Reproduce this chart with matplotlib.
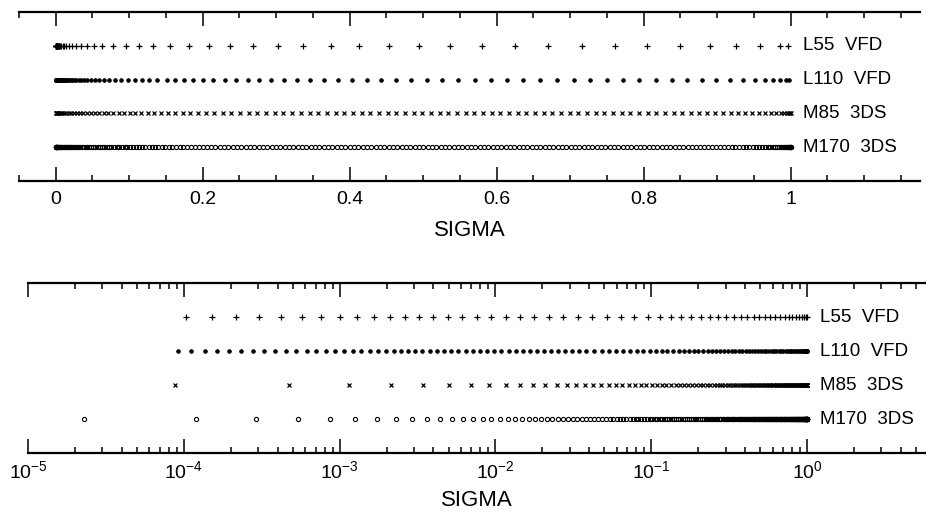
import matplotlib
matplotlib.use('Agg')
import matplotlib.pyplot as plt
from matplotlib.ticker import MultipleLocator, LogLocator, FuncFormatter, NullFormatter
import math

plt.rcParams['font.family'] = ['Liberation Sans', 'DejaVu Sans']
plt.rcParams['mathtext.fontset'] = 'custom'
plt.rcParams['mathtext.rm'] = 'Liberation Sans'
plt.rcParams['mathtext.default'] = 'regular'

# sigma levels
l55_vfd = [1.03e-4, 1.51e-4, 2.16e-4, 3.04e-4, 4.21e-4, 5.73e-4, 7.63e-4, 1.00e-3,
           1.30e-3, 1.66e-3, 2.09e-3, 2.61e-3, 3.22e-3, 3.99e-3, 4.95e-3, 6.14e-3,
           7.63e-3, 9.38e-3, 0.0116, 0.0143, 0.0177, 0.0220, 0.0272, 0.0337, 0.0419,
           0.0517, 0.0635, 0.078, 0.095, 0.113, 0.133, 0.156, 0.181, 0.209, 0.237,
           0.269, 0.302, 0.337, 0.374, 0.413, 0.453, 0.494, 0.537, 0.580, 0.625,
           0.670, 0.716, 0.761, 0.805, 0.849, 0.890, 0.926, 0.958, 0.985, 0.996]

l110_vfd = [9.2e-5, 1.12e-4, 1.36e-4, 1.63e-4, 1.96e-4, 2.34e-4, 2.78e-4, 3.29e-4,
            3.87e-4, 4.53e-4, 5.28e-4, 6.13e-4, 7.05e-4, 8.13e-4, 9.33e-4, 1.07e-3,
            1.22e-3, 1.38e-3, 1.56e-3, 1.76e-3, 1.98e-3, 2.22e-3, 2.47e-3, 2.74e-3,
            3.06e-3, 3.40e-3, 3.78e-3, 4.19e-3, 4.66e-3, 5.20e-3, 5.79e-3, 6.45e-3,
            7.20e-3, 8.00e-3, 8.87e-3,
            0.00985, 0.01093, 0.01213, 0.01347, 0.01495, 0.0166, 0.0184, 0.0204,
            0.0227, 0.0252, 0.0280, 0.0310, 0.0345, 0.0383, 0.0428, 0.0480, 0.0535,
            0.0595, 0.0660, 0.0730, 0.0805, 0.0885,
            0.098, 0.108, 0.117, 0.127, 0.138, 0.151, 0.162, 0.174, 0.187, 0.200,
            0.214, 0.230, 0.245, 0.261, 0.277, 0.293, 0.311, 0.328, 0.346, 0.365,
            0.384, 0.403, 0.423, 0.443, 0.463, 0.484, 0.505, 0.526, 0.548, 0.570,
            0.592, 0.614, 0.636, 0.659, 0.682, 0.705, 0.727, 0.750, 0.772, 0.794,
            0.817, 0.839, 0.859, 0.880, 0.899, 0.918, 0.935, 0.951, 0.965, 0.976,
            0.985, 0.994, 0.998]

m85_3ds = [8.84e-5, 4.71e-4, 1.156e-3, 2.144e-3, 3.434e-3, 5.027e-3, 6.922e-3, 9.120e-3,
           0.01162, 0.01442, 0.01753, 0.02094, 0.02465, 0.02866, 0.03298, 0.03760,
           0.04252, 0.04774, 0.05327, 0.05910, 0.06523, 0.07166, 0.07840, 0.08544,
           0.09278, 0.1004, 0.1084, 0.1166, 0.1252, 0.1340, 0.1432, 0.1526, 0.1624,
           0.1725, 0.1828, 0.1935, 0.2045, 0.2158, 0.2273,
           0.2391, 0.2509, 0.2627, 0.2745, 0.2863, 0.2981, 0.3099, 0.3217, 0.3335,
           0.3453, 0.3571, 0.3689, 0.3807, 0.3925, 0.4043, 0.4161, 0.4279, 0.4397,
           0.4515, 0.4633, 0.4751, 0.4869, 0.4987, 0.5105, 0.5223, 0.5341, 0.5459,
           0.5577, 0.5695, 0.5813, 0.5931, 0.6049, 0.6167, 0.6285, 0.6403, 0.6521,
           0.6639, 0.6757, 0.6875, 0.6993, 0.7111, 0.7229, 0.7347, 0.7465, 0.7583,
           0.7701, 0.7819, 0.7937, 0.8055, 0.8173, 0.8291, 0.8409,
           0.8525, 0.8640, 0.8753, 0.8864, 0.8973, 0.9079, 0.9183, 0.9284, 0.9382,
           0.9476, 0.9566, 0.9651, 0.9730, 0.9801, 0.9862, 0.9912, 0.9950, 0.9977,
           0.9993, 1.0]

m170_3ds = [2.28e-5, 1.192e-4, 2.914e-4, 5.392e-4, 8.626e-4, 1.2617e-3, 1.7364e-3,
            2.2868e-3, 2.9128e-3, 3.6144e-3, 4.3917e-3, 5.2446e-3, 6.1732e-3,
            7.1775e-3, 8.2574e-3, 9.4129e-3, 0.010644, 0.011951, 0.013333, 0.014791,
            0.016325, 0.017935, 0.019620, 0.021380, 0.023217, 0.025129, 0.027116,
            0.029180, 0.031318, 0.033533, 0.035823, 0.038189, 0.040630, 0.043148,
            0.045740, 0.048409, 0.051153, 0.053973, 0.056868, 0.059839, 0.062886,
            0.066008, 0.069206, 0.072479, 0.075829, 0.079254, 0.082754, 0.086330,
            0.089982, 0.093709, 0.097513, 0.101391, 0.105346, 0.109376, 0.113481,
            0.117663, 0.121920, 0.126252, 0.130660, 0.135144, 0.139704, 0.144339,
            0.149050, 0.153837, 0.158699, 0.163636, 0.168650, 0.173739, 0.178904,
            0.184144, 0.189460, 0.194852, 0.200319, 0.205862, 0.211480, 0.217175,
            0.222945, 0.228790, 0.234711,
            0.2406, 0.2465, 0.2524, 0.2583, 0.2642, 0.2701, 0.2760, 0.2819, 0.2878,
            0.2937, 0.2996, 0.3055, 0.3114, 0.3173, 0.3232, 0.3291, 0.3350, 0.3409,
            0.3468, 0.3527, 0.3586, 0.3645, 0.3704, 0.3763, 0.3822, 0.3881, 0.3940,
            0.3999, 0.4058, 0.4117, 0.4176, 0.4235, 0.4294, 0.4353, 0.4412, 0.4471,
            0.4530, 0.4589, 0.4648, 0.4707, 0.4766, 0.4825, 0.4884, 0.4943, 0.5002,
            0.5061, 0.5120, 0.5179, 0.5238, 0.5297, 0.5356, 0.5415, 0.5474, 0.5533,
            0.5592, 0.5651, 0.5710, 0.5769, 0.5828, 0.5887, 0.5946, 0.6005, 0.6064,
            0.6123, 0.6182, 0.6241, 0.6300, 0.6359, 0.6418, 0.6477, 0.6536, 0.6595,
            0.6654, 0.6713, 0.6772, 0.6831, 0.6890, 0.6949, 0.7008, 0.7067, 0.7126,
            0.7185, 0.7244, 0.7303, 0.7362, 0.7421, 0.7480, 0.7539, 0.7598, 0.7657,
            0.7716, 0.7775, 0.7834, 0.7893, 0.7952, 0.8011, 0.8070, 0.8129, 0.8188,
            0.8247, 0.8306, 0.8365, 0.8424, 0.8483,
            0.8541, 0.8599, 0.8656, 0.8713, 0.8769, 0.8825, 0.8880, 0.8935, 0.8989,
            0.9043, 0.9096, 0.9148, 0.9199, 0.9249, 0.9298, 0.9346, 0.9393, 0.9439,
            0.9484, 0.9527, 0.9569, 0.9609, 0.9648, 0.9685, 0.9720, 0.9753, 0.9784,
            0.9813, 0.9840, 0.9865, 0.9888, 0.9908, 0.9926, 0.9942, 0.9956, 0.9968,
            0.9978, 0.9986, 0.9992, 0.9996, 0.9999, 1.0]

names = ['L55  VFD', 'L110  VFD', 'M85  3DS', 'M170  3DS']
series = [l55_vfd, l110_vfd, m85_3ds, m170_3ds]
rows = [4, 3, 2, 1]
styles = [dict(marker='+', ms=5, mew=0.9),
          dict(marker='o', ms=2.7, mew=0.5),
          dict(marker='x', ms=3, mew=0.9),
          dict(marker='o', ms=3, mew=0.8, mfc='none')]

fig = plt.figure(figsize=(9.26, 5.19), dpi=100)
ax1 = fig.add_axes([19/926, 1 - 181/519, 901/926, 169/519])
ax2 = fig.add_axes([28/926, 1 - 453/519, 898/926, 170/519])


def style_axis(ax):
    for s in ['left', 'right']:
        ax.spines[s].set_visible(False)
    for s in ['top', 'bottom']:
        ax.spines[s].set_linewidth(1.6)
    ax.set_ylim(0, 5)
    ax.set_yticks([])
    ax.tick_params(which='both', direction='in', top=True, bottom=True,
                   left=False, right=False, width=1.1, labelsize=14)
    ax.tick_params(which='major', length=10)
    ax.tick_params(which='minor', length=4.5)
    for vals, y, name, st in zip(series, rows, names, styles):
        ax.plot(vals, [y] * len(vals), linestyle='none', color='black', **st)
        ax.annotate(name, xy=(1, y), xytext=(9, 0), textcoords='offset points',
                    va='center', ha='left', fontsize=13.5)
    ax.set_xlabel('SIGMA', fontsize=16)


style_axis(ax1)
ax1.set_xlim(-0.05, 1.176)
ax1.xaxis.set_major_locator(MultipleLocator(0.2))
ax1.xaxis.set_minor_locator(MultipleLocator(0.05))
ax1.xaxis.set_major_formatter(FuncFormatter(lambda v, p: ('%g' % round(v, 3))))
ax1.tick_params(axis='x', pad=7)
ax1.xaxis.labelpad = 9

style_axis(ax2)
ax2.set_xscale('log')
ax2.set_xlim(1e-5, 10 ** 0.763)
ax2.xaxis.set_major_locator(LogLocator(base=10, numticks=20))
ax2.xaxis.set_minor_locator(LogLocator(base=10, subs=range(2, 10), numticks=20))
ax2.xaxis.set_minor_formatter(NullFormatter())
ax2.xaxis.set_major_formatter(FuncFormatter(lambda v, p: '$10^{%d}$' % round(math.log10(v))))
ax2.tick_params(axis='x', pad=5)
ax2.xaxis.labelpad = 6

fig.savefig('out.png', dpi=100)
